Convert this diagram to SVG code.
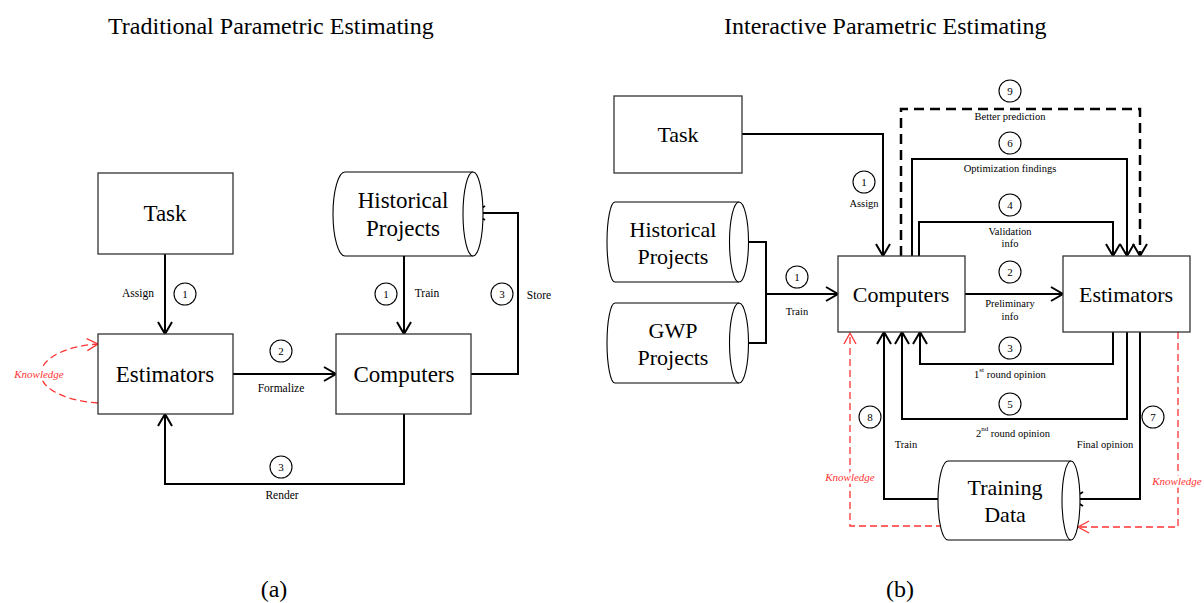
<svg xmlns="http://www.w3.org/2000/svg" width="1204" height="603" viewBox="0 0 1204 603">
<style>
text{font-family:"Liberation Serif","Times New Roman",serif;fill:#000}
.t{font-size:24px}
.n{font-size:23px;text-anchor:middle;dominant-baseline:central}
.nr{font-size:22px;text-anchor:middle;dominant-baseline:central}
.s{font-size:11.5px;text-anchor:middle;dominant-baseline:central}
.sr{font-size:10.5px;text-anchor:middle;dominant-baseline:central}
.d{font-size:11px;text-anchor:middle;dominant-baseline:central}
.k{font-size:11px;font-style:italic;fill:#f33;text-anchor:middle;dominant-baseline:central;paint-order:stroke;stroke:#fff;stroke-width:5px}
.box{fill:#fff;stroke:#333;stroke-width:1.3}
.cyl{fill:#fff;stroke:#000;stroke-width:1.1}
.c{fill:#fff;stroke:#000;stroke-width:1.1}
.w{fill:none;stroke:#000;stroke-width:2}
.wa{fill:none;stroke:#000;stroke-width:2;marker-end:url(#ar)}
.dash{fill:none;stroke:#000;stroke-width:2.5;stroke-dasharray:10 6;marker-end:url(#ar)}
.red{fill:none;stroke:#f33;stroke-width:1.3;stroke-dasharray:7 4;marker-end:url(#arr)}
</style>
<defs>
<marker id="ar" markerUnits="userSpaceOnUse" markerWidth="20" markerHeight="20" viewBox="-14 -10 16 20" refX="0" refY="0" orient="auto" overflow="visible">
<path d="M-12,-7 L0,0 L-12,7" fill="none" stroke="#000" stroke-width="2"/>
</marker>
<marker id="arr" markerUnits="userSpaceOnUse" markerWidth="20" markerHeight="20" viewBox="-14 -10 16 20" refX="0" refY="0" orient="auto" overflow="visible">
<path d="M-11,-6 L0,0 L-11,6" fill="none" stroke="#f33" stroke-width="1.3"/>
</marker>
</defs>
<rect width="1204" height="603" fill="#fff"/>

<!-- Titles and captions -->
<text class="t" x="108" y="34">Traditional Parametric Estimating</text>
<text class="t" x="724" y="34">Interactive Parametric Estimating</text>
<text class="t" x="274" y="597" text-anchor="middle">(a)</text>
<text class="t" x="900" y="597" text-anchor="middle">(b)</text>

<!-- ===== (a) connectors ===== -->
<g id="connectors-a">
<path class="wa" d="M165,254 V334"/>
<path class="wa" d="M404,256 V334"/>
<path class="wa" d="M233,374 H336"/>
<path class="wa" d="M471,374 H518 V213 H473"/>
<path class="wa" d="M404,414 V484 H165 V414"/>
<path class="red" d="M98,403 C68,401 41,390 41,374 C41,358 66,346 98,344"/>
<circle class="c" cx="185" cy="294" r="11"/><text class="d" x="185" y="294">1</text>
<text class="s" x="138" y="293">Assign</text>
<circle class="c" cx="386" cy="294" r="11"/><text class="d" x="386" y="294">1</text>
<text class="s" x="427" y="293">Train</text>
<circle class="c" cx="502" cy="294" r="11"/><text class="d" x="502" y="294">3</text>
<text class="s" x="539" y="295">Store</text>
<circle class="c" cx="281" cy="351" r="11"/><text class="d" x="281" y="351">2</text>
<text class="s" x="281" y="388">Formalize</text>
<circle class="c" cx="281" cy="467" r="11"/><text class="d" x="281" y="467">3</text>
<text class="s" x="282" y="495">Render</text>
<text class="k" x="39" y="374">Knowledge</text>
</g>

<!-- ===== (a) nodes ===== -->
<g id="a-task"><rect class="box" x="98" y="173" width="135" height="81"/><text class="n" x="165" y="213">Task</text></g>
<g id="a-estimators"><rect class="box" x="98" y="334" width="135" height="80"/><text class="n" x="165" y="374">Estimators</text></g>
<g id="a-computers"><rect class="box" x="336" y="334" width="135" height="80"/><text class="n" x="404" y="374">Computers</text></g>
<g id="a-historical">
<path class="cyl" d="M473,172 H345 A12,42 0 0,0 345,256 H473"/>
<path class="cyl" d="M473,172 A10,42 0 0,1 473,256 A10,42 0 0,1 473,172 Z"/>
<text class="n" x="403" y="200">Historical</text><text class="n" x="403" y="228">Projects</text>
</g>

<!-- ===== (b) connectors ===== -->
<g id="connectors-b">
<path class="wa" d="M742,134 H883 V256"/>
<path class="w" d="M739,242 H766 V343 H739"/>
<path class="wa" d="M766,294 H838"/>
<path class="wa" d="M965,294 H1063"/>
<path class="wa" d="M919,256 V222 H1113 V256"/>
<path class="wa" d="M912,256 V159 H1127 V256"/>
<path class="dash" d="M901,256 V109 H1140 V256"/>
<path class="wa" d="M1113,332 V364 H920 V332"/>
<path class="wa" d="M1127,332 V419 H902 V332"/>
<path class="wa" d="M1140,332 V499 H1071"/>
<path class="wa" d="M938,499 H884 V332"/>
<path class="red" d="M943,526 H850 V333"/>
<path class="red" d="M1178,332 V527 H1078"/>

<circle class="c" cx="864" cy="182" r="11"/><text class="d" x="864" y="182">1</text>
<text class="sr" x="864" y="203">Assign</text>
<circle class="c" cx="797" cy="277" r="11"/><text class="d" x="797" y="277">1</text>
<text class="sr" x="797" y="311">Train</text>
<circle class="c" cx="1010" cy="91" r="11"/><text class="d" x="1010" y="91">9</text>
<text class="sr" x="1010" y="116">Better prediction</text>
<circle class="c" cx="1010" cy="143" r="11"/><text class="d" x="1010" y="143">6</text>
<text class="sr" x="1010" y="168">Optimization findings</text>
<circle class="c" cx="1010" cy="205" r="11"/><text class="d" x="1010" y="205">4</text>
<text class="sr" x="1010" y="231">Validation</text>
<text class="sr" x="1010" y="243">info</text>
<circle class="c" cx="1010" cy="272" r="11"/><text class="d" x="1010" y="272">2</text>
<text class="sr" x="1010" y="303">Preliminary</text>
<text class="sr" x="1010" y="316">info</text>
<circle class="c" cx="1010" cy="348" r="11"/><text class="d" x="1010" y="348">3</text>
<text class="sr" x="1010" y="374">1<tspan font-size="7" dy="-4">st</tspan><tspan dy="4"> round opinion</tspan></text>
<circle class="c" cx="1010" cy="404" r="11"/><text class="d" x="1010" y="404">5</text>
<text class="sr" x="1013" y="433">2<tspan font-size="7" dy="-4">nd</tspan><tspan dy="4"> round opinion</tspan></text>
<circle class="c" cx="1153" cy="417" r="11"/><text class="d" x="1153" y="417">7</text>
<text class="sr" x="1105" y="444">Final opinion</text>
<circle class="c" cx="870" cy="417" r="11"/><text class="d" x="870" y="417">8</text>
<text class="sr" x="906" y="444">Train</text>
<text class="k" x="850" y="477">Knowledge</text>
<text class="k" x="1177" y="481">Knowledge</text>
</g>

<!-- ===== (b) nodes ===== -->
<g id="b-task"><rect class="box" x="614" y="96" width="128" height="77"/><text class="nr" x="678" y="134">Task</text></g>
<g id="b-computers"><rect class="box" x="838" y="256" width="127" height="76"/><text class="nr" x="901" y="294">Computers</text></g>
<g id="b-estimators"><rect class="box" x="1063" y="256" width="127" height="76"/><text class="nr" x="1126" y="294">Estimators</text></g>
<g id="b-historical">
<path class="cyl" d="M739,202 H615 A8,40 0 0,0 615,282 H739"/>
<path class="cyl" d="M739,202 A9.5,40 0 0,1 739,282 A9.5,40 0 0,1 739,202 Z"/>
<text class="nr" x="673" y="229">Historical</text><text class="nr" x="673" y="256">Projects</text>
</g>
<g id="b-gwp">
<path class="cyl" d="M739,303 H615 A8,40 0 0,0 615,383 H739"/>
<path class="cyl" d="M739,303 A9.5,40 0 0,1 739,383 A9.5,40 0 0,1 739,303 Z"/>
<text class="nr" x="673" y="330">GWP</text><text class="nr" x="673" y="357">Projects</text>
</g>
<g id="b-training">
<path class="cyl" d="M1071,461 H948 A10,39.5 0 0,0 948,540 H1071"/>
<path class="cyl" d="M1071,461 A9,39.5 0 0,1 1071,540 A9,39.5 0 0,1 1071,461 Z"/>
<text class="nr" x="1005" y="487">Training</text><text class="nr" x="1005" y="514">Data</text>
</g>
</svg>
